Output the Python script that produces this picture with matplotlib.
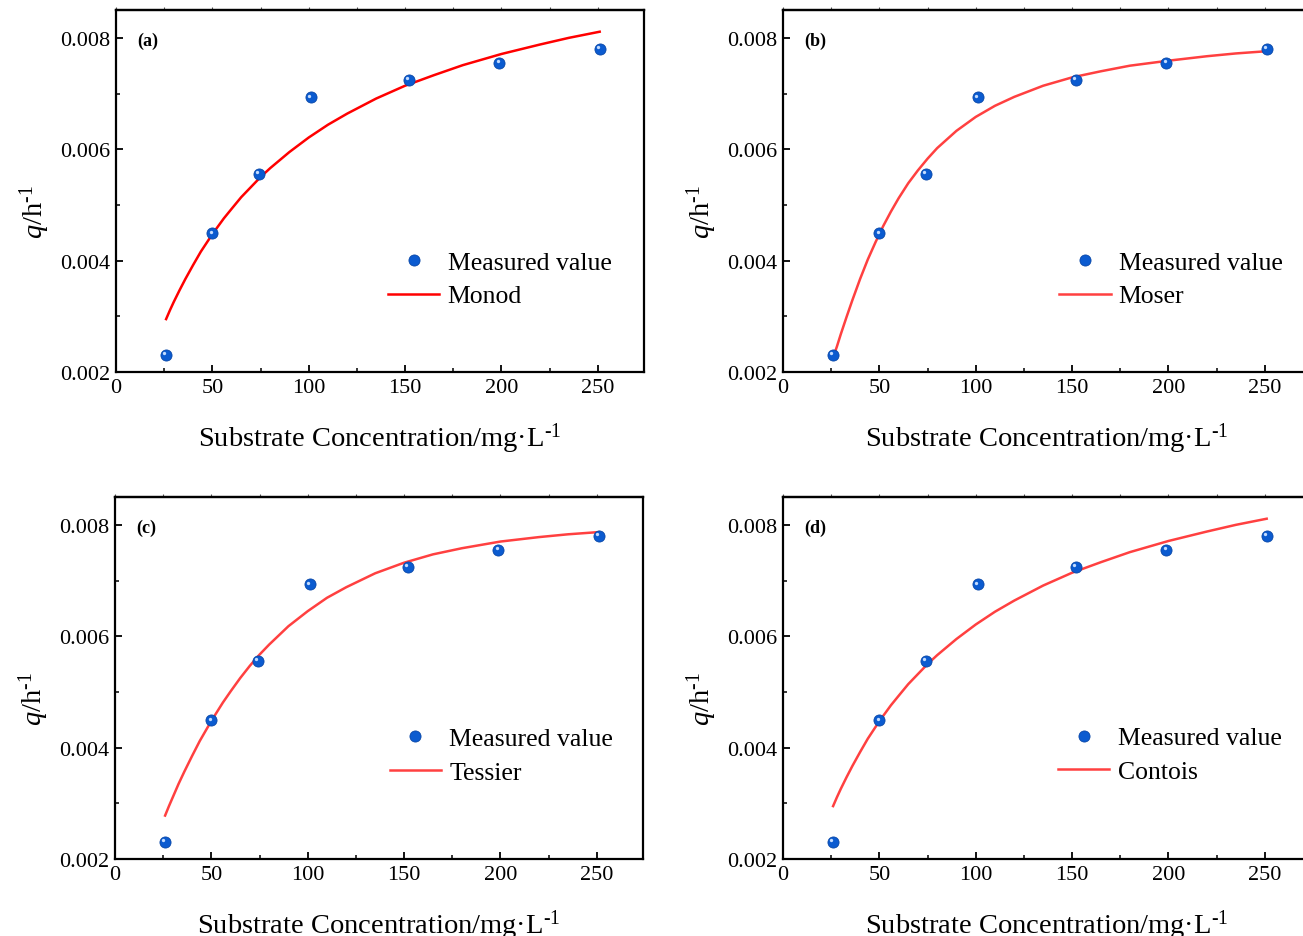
import matplotlib
matplotlib.use("Agg")
import matplotlib.pyplot as plt
from matplotlib import transforms
from matplotlib.ticker import MultipleLocator

plt.rcParams['font.family'] = ['Liberation Serif', 'DejaVu Serif']
plt.rcParams['mathtext.fontset'] = 'custom'
plt.rcParams['mathtext.rm'] = 'Liberation Serif'
plt.rcParams['mathtext.it'] = 'Liberation Serif:italic'

# measured values (same in all four panels)
s_measured = [26, 50, 74, 101, 152, 199, 251]
q_measured = [0.00230, 0.00449, 0.00556, 0.00693, 0.00724, 0.00755, 0.00780]

# fitted curves
s_fit = [26, 28, 30, 33, 36, 40, 44, 48, 52, 56, 60, 65, 70, 75, 80, 90,
         100, 110, 120, 135, 150, 165, 180, 200, 220, 235, 251]

q_monod = [0.00295, 0.00311, 0.00326, 0.00347, 0.00367, 0.00392, 0.00416, 0.00437, 0.00457,
           0.00476, 0.00493, 0.00514, 0.00532, 0.00550, 0.00566, 0.00595, 0.00621, 0.00644,
           0.00664, 0.00691, 0.00714, 0.00733, 0.00751, 0.00771, 0.00788, 0.00800, 0.00811]

q_moser = [0.00226, 0.00246, 0.00268, 0.00299, 0.00329, 0.00367, 0.00402, 0.00433, 0.00462,
           0.00488, 0.00512, 0.00539, 0.00562, 0.00583, 0.00602, 0.00633, 0.00658, 0.00678,
           0.00694, 0.00714, 0.00729, 0.00740, 0.00750, 0.00759, 0.00767, 0.00772, 0.00776]

q_tessier = [0.00278, 0.00295, 0.00311, 0.00335, 0.00357, 0.00385, 0.00412, 0.00436, 0.00459,
             0.00481, 0.00501, 0.00525, 0.00547, 0.00567, 0.00585, 0.00618, 0.00645, 0.00669,
             0.00688, 0.00713, 0.00732, 0.00747, 0.00758, 0.00770, 0.00778, 0.00783, 0.00787]

q_contois = [0.00295, 0.00311, 0.00326, 0.00347, 0.00367, 0.00392, 0.00416, 0.00437, 0.00457,
             0.00476, 0.00493, 0.00514, 0.00532, 0.00550, 0.00566, 0.00595, 0.00621, 0.00644,
             0.00664, 0.00691, 0.00714, 0.00733, 0.00751, 0.00771, 0.00788, 0.00800, 0.00811]

panel_tags = ['(a)', '(b)', '(c)', '(d)']
model_names = ['Monod', 'Moser', 'Tessier', 'Contois']

W, H = 1303, 937


def draw_panel(fig, rect, tag, name, q_fit, line_color, leg_xy):
    l, t, r, b = rect
    ax = fig.add_axes([l / W, 1 - b / H, (r - l) / W, (b - t) / H])

    fit_line, = ax.plot(s_fit, q_fit, color=line_color, lw=1.8, label=name, zorder=2)
    pts, = ax.plot(s_measured, q_measured, 'o', ms=8, color='#0B5BD0',
                   mec='#0A48A8', mew=0.6, label='Measured value', zorder=3)
    # little shine on the balls
    shine = transforms.offset_copy(ax.transData, fig=fig, x=-1.8, y=1.8, units='dots')
    ax.plot(s_measured, q_measured, 'o', ms=2.4, color='#C4DCFF', mew=0,
            transform=shine, zorder=4)

    ax.set_xlim(0, 274)
    ax.set_ylim(0.002, 0.0085)
    ax.set_xticks([0, 50, 100, 150, 200, 250])
    ax.set_yticks([0.002, 0.004, 0.006, 0.008])
    ax.set_yticklabels(['0.002', '0.004', '0.006', '0.008'])
    ax.xaxis.set_minor_locator(MultipleLocator(25))
    ax.yaxis.set_minor_locator(MultipleLocator(0.001))
    ax.tick_params(which='major', direction='in', length=5, width=1.3,
                   labelsize=16, pad=4)
    ax.tick_params(which='minor', direction='in', length=3, width=1.1)

    top = ax.secondary_xaxis('top')
    top.set_xticks([0, 25, 50, 75, 100, 125, 150, 175, 200, 225, 250])
    top.tick_params(direction='out', length=2.5, width=0.8, labeltop=False,
                    color='#555555')

    for sp in ax.spines.values():
        sp.set_linewidth(1.6)
    top.spines['top'].set_linewidth(1.6)

    ax.set_xlabel(r'Substrate Concentration/mg·L$^{\text{-1}}$', fontsize=20.5)
    ax.xaxis.set_label_coords(0.5, -0.134)
    ax.set_ylabel(r'$\mathit{q}$/h$^{\text{-1}}$', fontsize=20.5)
    ax.yaxis.set_label_coords(-0.121, 0.445)

    ax.text(0.04, 0.917, tag, transform=ax.transAxes, fontsize=13,
            fontweight='bold', va='center', ha='left')

    ax.legend(handles=[pts, fit_line], labels=['Measured value', name],
              loc='upper left', bbox_to_anchor=leg_xy, frameon=False,
              fontsize=18.5, handlelength=2.0, handletextpad=0.32,
              borderpad=0, borderaxespad=0, labelspacing=0.42, numpoints=1)
    return ax


fig = plt.figure(figsize=(W / 100, H / 100), dpi=100)

draw_panel(fig, (116, 11, 644, 373), panel_tags[0], model_names[0],
           q_monod, '#FF0000', (0.515, 0.335))
draw_panel(fig, (783, 11, 1311, 373), panel_tags[1], model_names[1],
           q_moser, '#FF4040', (0.523, 0.335))
draw_panel(fig, (115, 498, 643, 860), panel_tags[2], model_names[2],
           q_tessier, '#FF4040', (0.52, 0.364))
draw_panel(fig, (783, 498, 1311, 860), panel_tags[3], model_names[3],
           q_contois, '#FF4040', (0.521, 0.366))

fig.savefig('out.png', dpi=100)
